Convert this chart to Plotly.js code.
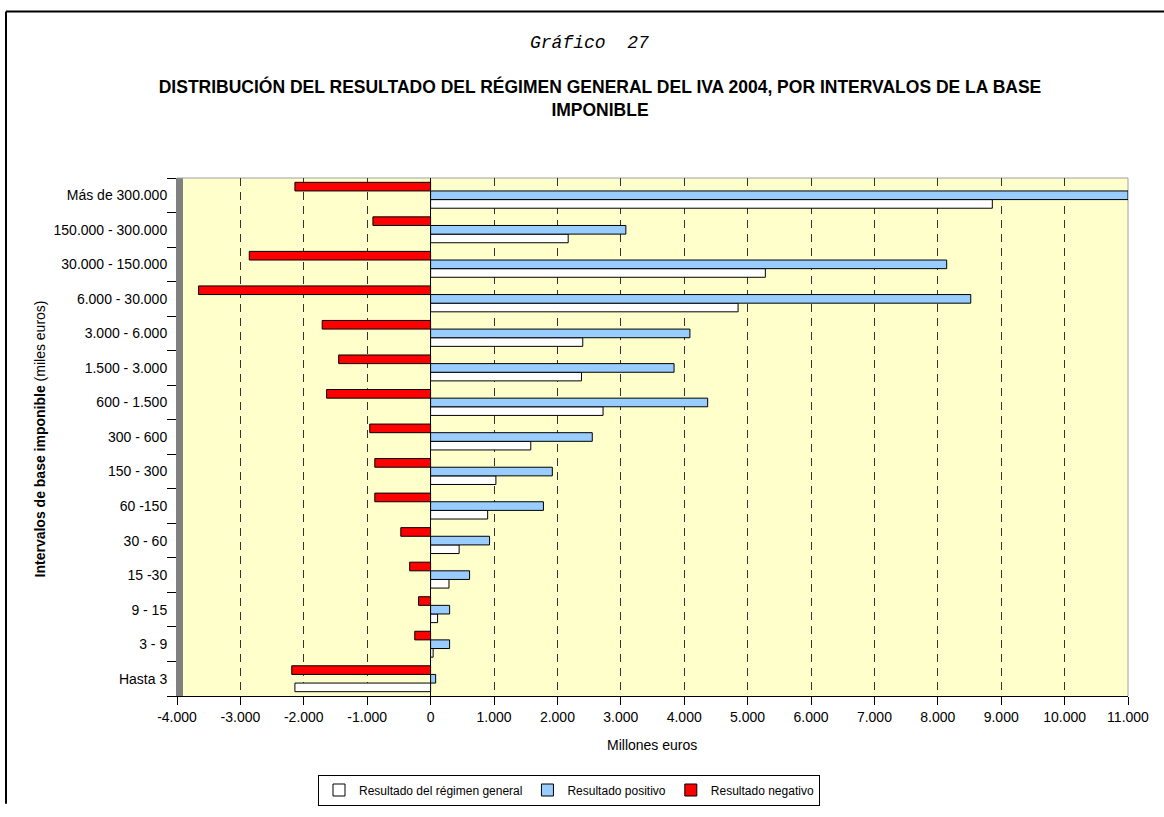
<!DOCTYPE html>
<html>
<head>
<meta charset="utf-8">
<script src="https://cdn.plot.ly/plotly-3.0.1.min.js"></script>
<style>
  html, body { margin: 0; padding: 0; background: #ffffff; }
  #chart { width: 1164px; height: 817px; }
</style>
</head>
<body>
<div id="chart"></div>
<script>
// Categories (bottom to top)
const categories = [
  "Hasta 3", "3 - 9", "9 - 15", "15 -30", "30 - 60", "60 -150", "150 - 300",
  "300 - 600", "600 - 1.500", "1.500 - 3.000", "3.000 - 6.000",
  "6.000 - 30.000", "30.000 - 150.000", "150.000 - 300.000", "Más de 300.000"
];
// Millones de euros
const resultadoGeneral = [-2140, 40, 110, 290, 450, 900, 1030, 1580, 2720, 2380, 2400, 4850, 5280, 2170, 8860];
const resultadoPositivo = [80, 300, 300, 615, 930, 1780, 1920, 2550, 4370, 3840, 4090, 8520, 8140, 3080, 11000];
const resultadoNegativo = [-2190, -250, -190, -330, -470, -880, -880, -960, -1640, -1450, -1710, -3660, -2860, -910, -2140];

const seriesNames = ["Resultado del régimen general", "Resultado positivo", "Resultado negativo"];
const tickValues = [-4000, -3000, -2000, -1000, 0, 1000, 2000, 3000, 4000, 5000, 6000, 7000, 8000, 9000, 10000, 11000];
const tickLabels = ["-4.000", "-3.000", "-2.000", "-1.000", "0", "1.000", "2.000", "3.000", "4.000", "5.000", "6.000", "7.000", "8.000", "9.000", "10.000", "11.000"];

const W = 1164, H = 817;
const L = 177, R = 36, T = 178, B = 110;
const pw = W - L - R, ph = H - T - B;
const px = x => (x - L) / pw;          // page px -> paper x
const py = y => (H - B - y) / ph;      // page px -> paper y

const lineStyle = { color: "#000000", width: 1 };
const traces = [
  { name: seriesNames[0], x: resultadoGeneral, y: categories, color: "#FFFFFF" },
  { name: seriesNames[1], x: resultadoPositivo, y: categories, color: "#99CCFF" },
  { name: seriesNames[2], x: resultadoNegativo, y: categories, color: "#FF0000" }
].map(s => ({
  type: "bar", orientation: "h", name: s.name, x: s.x, y: s.y,
  marker: { color: s.color, line: lineStyle },
  hoverinfo: "x+y+name"
}));

const font = "Arial, 'Liberation Sans', sans-serif";

const layout = {
  width: W, height: H,
  margin: { l: L, r: R, t: T, b: B },
  paper_bgcolor: "#FFFFFF",
  plot_bgcolor: "#FFFFCC",
  font: { family: font, size: 14, color: "#000000" },
  barmode: "group",
  bargap: 0.25,
  bargroupgap: 0,
  showlegend: true,
  legend: {
    orientation: "h",
    x: px(569), xanchor: "center",
    y: py(803), yanchor: "middle",
    bgcolor: "#FFFFFF",
    bordercolor: "#000000", borderwidth: 1,
    font: { family: font, size: 12, color: "#000000" },
    traceorder: "normal",
    itemwidth: 30,
    tracegroupgap: 0
  },
  title: {
    text: "<b>DISTRIBUCIÓN DEL RESULTADO DEL RÉGIMEN GENERAL DEL IVA 2004, POR INTERVALOS DE LA BASE<br>IMPONIBLE</b>",
    xref: "container", x: 600 / W, xanchor: "center",
    yref: "container", y: 1 - 93 / H, yanchor: "middle",
    font: { family: font, size: 17.5, color: "#000000" }
  },
  xaxis: {
    range: [-4000, 11000],
    tickmode: "array", tickvals: tickValues, ticktext: tickLabels,
    ticks: "outside", ticklen: 8, tickcolor: "#000000", tickwidth: 1,
    showline: true, linecolor: "#000000", linewidth: 1,
    showgrid: true, gridcolor: "#333333", griddash: "8px,6px", gridwidth: 1,
    zeroline: true, zerolinecolor: "#000000", zerolinewidth: 1,
    tickfont: { family: font, size: 14, color: "#000000" },
    fixedrange: true
  },
  yaxis: {
    type: "category",
    categoryorder: "array", categoryarray: categories,
    tickson: "boundaries",
    ticks: "outside", ticklen: 9, tickcolor: "#000000", tickwidth: 1,
    ticklabelstandoff: 6,
    showline: true, linecolor: "#808080", linewidth: 1,
    showgrid: false, zeroline: false,
    tickfont: { family: font, size: 14, color: "#000000" },
    fixedrange: true
  },
  shapes: [
    // outer frame (top and left edges visible)
    { type: "line", xref: "paper", yref: "paper", x0: px(6), x1: px(1164), y0: py(8), y1: py(8), line: { color: "#000000", width: 2 } },
    { type: "line", xref: "paper", yref: "paper", x0: px(6), x1: px(6), y0: py(8), y1: py(817), line: { color: "#000000", width: 2 } },
    // grey side wall of the 3D plot area
    { type: "rect", xref: "paper", yref: "paper", x0: px(177), x1: px(183), y0: py(707), y1: py(178), fillcolor: "#808080", line: { width: 0 }, layer: "below" },
    // back wall borders
    { type: "line", xref: "paper", yref: "paper", x0: 1, x1: 1, y0: 0, y1: 1, line: { color: "#A0A0A0", width: 1 }, layer: "below" },
    { type: "line", xref: "paper", yref: "paper", x0: 0, x1: 1, y0: 1, y1: 1, line: { color: "#A0A0A0", width: 1 }, layer: "below" }
  ],
  annotations: [
    {
      text: "<i>Gráfico  27</i>",
      xref: "paper", yref: "paper", x: px(589), y: py(40),
      xanchor: "center", yanchor: "middle", showarrow: false,
      font: { family: "'Courier New', 'Liberation Mono', monospace", size: 18, color: "#000000" }
    },
    {
      text: "Millones euros",
      xref: "paper", yref: "paper", x: px(652), y: py(757),
      xanchor: "center", yanchor: "middle", showarrow: false,
      font: { family: font, size: 14, color: "#000000" }
    },
    {
      text: "<b>Intervalos de base imponible</b> (miles euros)",
      xref: "paper", yref: "paper", x: px(40), y: py(445),
      xanchor: "center", yanchor: "middle", showarrow: false, textangle: -90,
      font: { family: font, size: 14, color: "#000000" }
    }
  ]
};

Plotly.newPlot("chart", traces, layout, { displayModeBar: false, staticPlot: false, responsive: false });
</script>
</body>
</html>
